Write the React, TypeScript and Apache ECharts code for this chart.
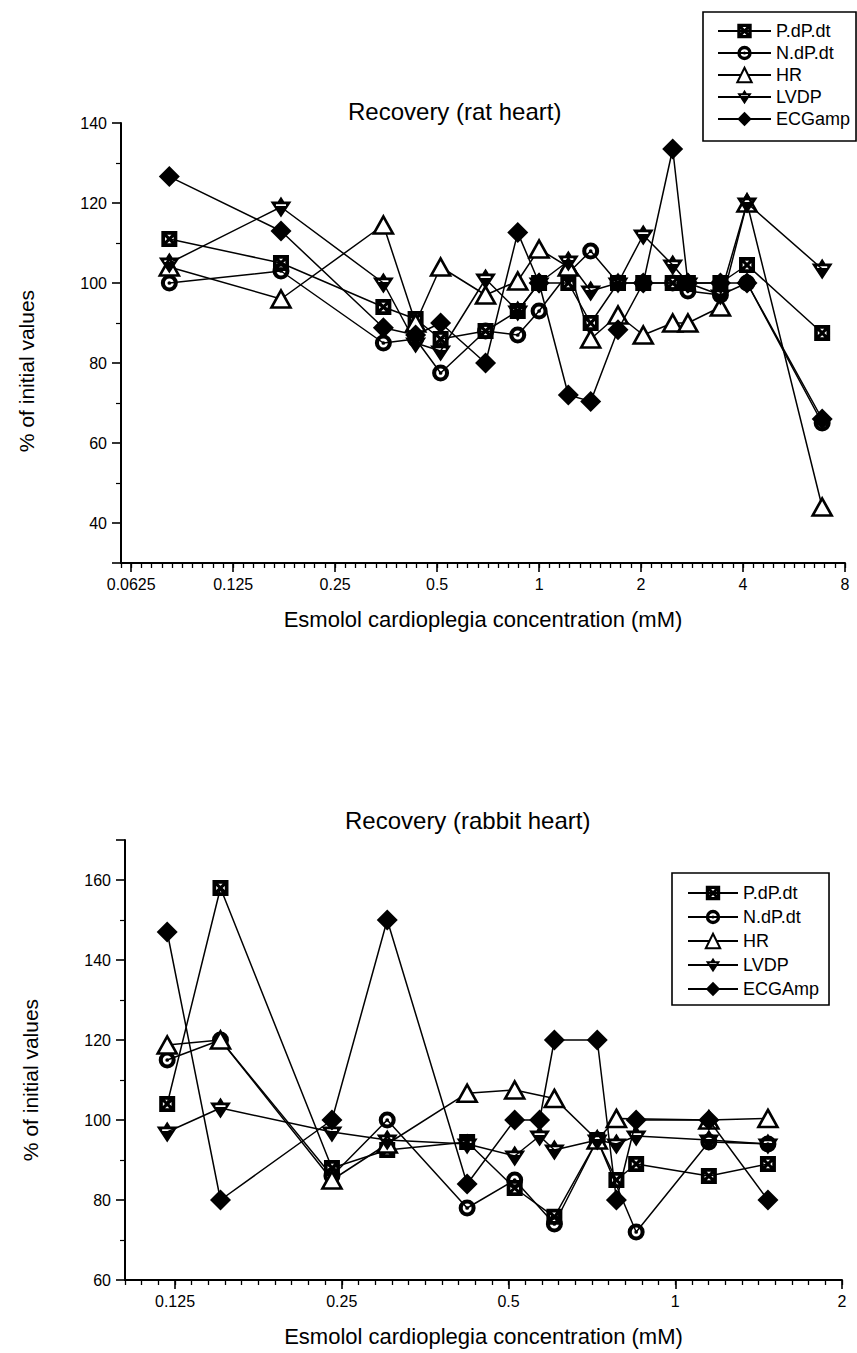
import React, { useEffect, useRef } from "react";
import * as echarts from "echarts";

// ---------- Rat heart (top) ----------
const ratConc = [0.081, 0.173, 0.347, 0.432, 0.512, 0.695, 0.865, 1.0, 1.22, 1.42, 1.71, 2.03, 2.48, 2.75, 3.43, 4.11, 6.85];
const ratPdPdt = [111, 105, 94, 91, 86, 88, 93, 100, 100, 90, 100, 100, 100, 100, 100, 104.5, 87.5];
const ratNdPdt = [100, 103, 85, 86, 77.5, 88, 87, 93, 102.5, 108, 100, 100, 100, 98, 97, 100, 65];
const ratHR = [104, 96, 114.5, 90, 104, 97, 100.5, 108.5, 104, 86, 92, 87, 90, 90, 94, 120, 44];
const ratLVDP = [105, 119, 100, 85, 83, 101, 93, 100, 105.5, 98, 100, 112, 104.5, 100, 97, 120, 103.5];
const ratECG = [126.6, 113, 88.8, 87, 90, 80, 112.6, 100, 72, 70.4, 88.3, 100, 133.5, 100, 100, 100, 66];

// ---------- Rabbit heart (bottom) ----------
const rabPConc = [0.121, 0.151, 0.24, 0.302, 0.421, 0.513, 0.605, 0.723, 0.783, 0.85, 1.15, 1.47];
const rabPdPdt = [104, 158, 88, 92.5, 94.5, 83, 75.8, 95, 85, 89, 86, 89];
const rabNConc = [0.121, 0.151, 0.24, 0.302, 0.421, 0.513, 0.605, 0.723, 0.85, 1.15, 1.47];
const rabNdPdt = [115, 120, 86, 100, 78, 85, 74, 95, 72, 94.5, 94];
const rabHRConc = [0.121, 0.151, 0.24, 0.302, 0.421, 0.513, 0.605, 0.723, 0.783, 1.15, 1.47];
const rabHR = [118.75, 120, 85, 94, 106.7, 107.5, 105.4, 95, 100.4, 100, 100.4];
const rabLVDPConc = [0.121, 0.151, 0.24, 0.302, 0.421, 0.513, 0.569, 0.605, 0.723, 0.783, 0.85, 1.15, 1.47];
const rabLVDP = [97, 103, 97, 95, 94, 91, 96, 92.5, 95, 94, 96, 95, 94];
const rabECGConc = [0.121, 0.151, 0.24, 0.302, 0.421, 0.513, 0.569, 0.605, 0.723, 0.783, 0.85, 1.15, 1.47];
const rabECG = [147, 80, 100, 150, 84, 100, 100, 120, 120, 80, 100, 100, 80];

const ratNames = ["P.dP.dt", "N.dP.dt", "HR", "LVDP", "ECGamp"];
const rabNames = ["P.dP.dt", "N.dP.dt", "HR", "LVDP", "ECGAmp"];

// axis extents (log2 exponents of the concentration range)
const ratExpRange = [-4.1, 3];
const rabExpRange = [-3.3, 1];

const GRID_H = 440;
const FONT = '"Liberation Sans", Arial, Helvetica, sans-serif';

const symP =
  "path://M0,0H10V10H0Z M3.7,2.3L5,3.6L6.3,2.3Z M7.7,3.7L6.4,5L7.7,6.3Z M6.3,7.7L5,6.4L3.7,7.7Z M2.3,6.3L3.6,5L2.3,3.7Z";
const symN =
  "path://M5,0A5,5,0,1,1,5,10A5,5,0,1,1,5,0Z M5,2.4A2.6,2.6,0,1,0,5,7.6A2.6,2.6,0,1,0,5,2.4Z M5,3.9A1.1,1.1,0,1,1,5,6.1A1.1,1.1,0,1,1,5,3.9Z";
const symLVDP = "path://M5,0L6.5,2.4H10L5,10L0,2.4H3.5Z M2.6,3.7V4.5H7.4V3.7Z";

const pair = (xs: number[], ys: number[]) => xs.map((x, i) => [x, ys[i]]);

function mk(name: string, data: number[][], kind: number, gi: number) {
  const symbols = [symP, symN, "triangle", symLVDP, "diamond"];
  const sizes: any[] = [16, 17, [19, 17], [21, 21], [21, 21]];
  const hollow = kind === 2;
  return {
    type: "line",
    name,
    data,
    xAxisIndex: gi,
    yAxisIndex: gi,
    symbol: symbols[kind],
    symbolSize: sizes[kind],
    showAllSymbol: true,
    clip: false,
    lineStyle: { color: "#000", width: 1.5 },
    itemStyle: hollow
      ? { color: "#fff", borderColor: "#000", borderWidth: 2.6 }
      : { color: "#000", borderWidth: 0 },
    emphasis: { disabled: true },
    z: 2 + kind,
  };
}

const logFmt = (v: number) => String(+Number(v).toPrecision(6));

function xAxisCfg(gi: number, exp: number[]) {
  return {
    type: "log",
    logBase: 2,
    gridIndex: gi,
    position: "bottom",
    min: Math.pow(2, exp[0]),
    max: Math.pow(2, exp[1]),
    axisLine: { lineStyle: { color: "#000", width: 2 } },
    axisTick: { show: true, length: 9, lineStyle: { color: "#000", width: 1.6 } },
    splitLine: { show: false },
    axisLabel: {
      fontSize: 16,
      color: "#000",
      fontFamily: FONT,
      margin: 13,
      showMinLabel: false,
      formatter: logFmt,
    },
    name: "Esmolol cardioplegia concentration (mM)",
    nameLocation: "middle",
    nameGap: 45,
    nameTextStyle: { fontSize: 22, color: "#000", fontFamily: FONT },
  };
}

// tick-only companion axis in log2 space carrying the small ticks;
// placed on the top side and shifted down onto the bottom edge of the grid
function minorAxisCfg(gi: number, exp: number[]) {
  return {
    type: "value",
    gridIndex: gi,
    position: "top",
    offset: -GRID_H,
    min: exp[0],
    max: exp[1],
    interval: 0.1,
    axisLine: { show: false },
    axisTick: { show: true, inside: true, length: 5, lineStyle: { color: "#000", width: 1.3 } },
    axisLabel: { show: false },
    splitLine: { show: false },
    silent: true,
  };
}

function yAxisCfg(gi: number, min: number, max: number, shift: number) {
  return {
    type: "value",
    gridIndex: gi,
    min,
    max,
    splitNumber: 5,
    axisLine: { show: true, onZero: false, lineStyle: { color: "#000", width: 2 } },
    axisTick: { show: true, length: 9, lineStyle: { color: "#000", width: 1.6 } },
    minorTick: { show: true, splitNumber: 2, length: 5, lineStyle: { color: "#000", width: 1.2 } },
    splitLine: { show: false },
    axisLabel: {
      fontSize: 16,
      color: "#000",
      fontFamily: FONT,
      margin: 14,
      showMinLabel: gi === 1,
      showMaxLabel: gi === 0,
    },
    name: "% of initial values",
    nameLocation: "middle",
    nameGap: 84,
    nameTextStyle: { fontSize: 21, color: "#000", fontFamily: FONT, padding: [0, shift, 0, 0] },
  };
}

function legendCfg(names: string[], left: number, top: number, gap: number, padding: number[], iw: number) {
  return {
    orient: "vertical",
    left,
    top,
    data: names,
    itemWidth: iw,
    itemHeight: 18,
    itemGap: gap,
    padding,
    borderColor: "#000",
    borderWidth: 1.6,
    backgroundColor: "#fff",
    selectedMode: false,
    textStyle: { fontSize: 18, lineHeight: 18, color: "#000", fontFamily: FONT },
  };
}

export default function App() {
  const ref = useRef<HTMLDivElement>(null);
  useEffect(() => {
    if (!ref.current) return;
    const chart = echarts.init(ref.current, null, { renderer: "svg" });
    const ratSeries = [ratPdPdt, ratNdPdt, ratHR, ratLVDP, ratECG].map((ys, k) =>
      mk(ratNames[k], pair(ratConc, ys), k, 0)
    );
    const rabData = [
      pair(rabPConc, rabPdPdt),
      pair(rabNConc, rabNdPdt),
      pair(rabHRConc, rabHR),
      pair(rabLVDPConc, rabLVDP),
      pair(rabECGConc, rabECG),
    ];
    const rabSeries = rabData.map((d, k) => mk(rabNames[k], d, k, 1));
    const titleStyle = { fontSize: 24, fontWeight: "normal", color: "#000", fontFamily: FONT };
    const option: any = {
      animation: false,
      backgroundColor: "#fff",
      title: [
        { text: "Recovery (rat heart)", left: 348, top: 99, padding: 0, textStyle: titleStyle },
        { text: "Recovery (rabbit heart)", left: 345, top: 808, padding: 0, textStyle: titleStyle },
      ],
      legend: [
        legendCfg(ratNames, 703, 12, 4, [10, 6, 13, 14], 53),
        legendCfg(rabNames, 672, 873, 6, [11, 10, 7, 15], 50),
      ],
      grid: [
        { left: 121, top: 123, width: 724, height: GRID_H },
        { left: 125, top: 840, width: 717, height: GRID_H },
      ],
      xAxis: [
        xAxisCfg(0, ratExpRange),
        xAxisCfg(1, rabExpRange),
        minorAxisCfg(0, ratExpRange),
        minorAxisCfg(1, rabExpRange),
      ],
      yAxis: [yAxisCfg(0, 30, 140, 56), yAxisCfg(1, 60, 170, 40)],
      series: [...ratSeries, ...rabSeries],
    };
    chart.setOption(option);
    return () => chart.dispose();
  }, []);
  return (
    <div
      ref={ref}
      style={{ position: "absolute", left: 0, top: 0, width: 857, height: 1353, background: "#fff" }}
    />
  );
}
